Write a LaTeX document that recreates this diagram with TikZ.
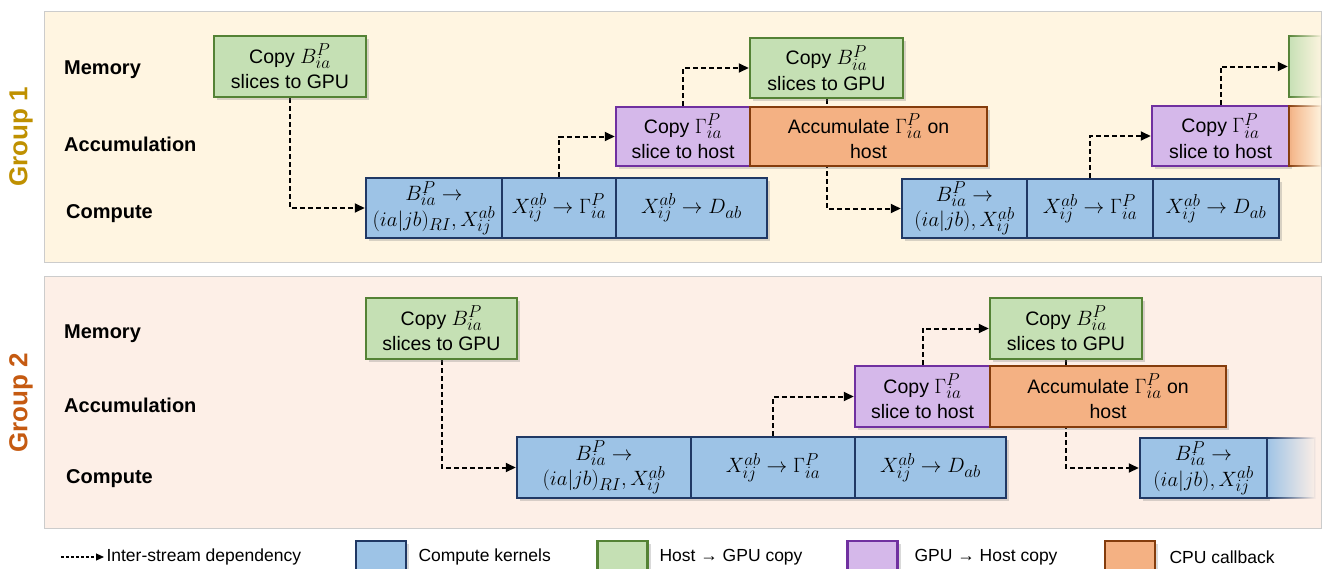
\documentclass[tikz,border=0pt]{standalone}
\usepackage{fontspec}
\setmainfont{Liberation Sans}
\usetikzlibrary{arrows.meta,shadows,fadings}
\DeclareMathSizes{19.5}{22}{16}{13}

\definecolor{kernelfill}{HTML}{9DC3E6}
\definecolor{kerneldraw}{HTML}{203864}
\definecolor{hostgpufill}{HTML}{C5E0B4}
\definecolor{hostgpudraw}{HTML}{548235}
\definecolor{gpuhostfill}{HTML}{D5B8EA}
\definecolor{gpuhostdraw}{HTML}{7030A0}
\definecolor{cpufill}{HTML}{F4B183}
\definecolor{cpudraw}{HTML}{843C0C}
\definecolor{panelone}{HTML}{FFF5E1}
\definecolor{paneltwo}{HTML}{FDEFE7}
\definecolor{groupgold}{HTML}{BF9000}
\definecolor{grouprust}{HTML}{C55A11}

\pgfdeclarelayer{bg}
\pgfdeclarelayer{links}
\pgfsetlayers{bg,links,main}

\begin{document}
\begin{tikzpicture}[x=1pt,y=-1pt]
  \tikzstyle{box}=[draw, line width=2.5pt, inner sep=0pt, align=center,
    font=\fontsize{19.5}{25.5}\selectfont,
    drop shadow={shadow xshift=3pt, shadow yshift=-3pt, opacity=0.3}]
  \tikzstyle{kernel}=[box, fill=kernelfill, draw=kerneldraw]
  \tikzstyle{hostgpu}=[box, fill=hostgpufill, draw=hostgpudraw]
  \tikzstyle{gpuhost}=[box, fill=gpuhostfill, draw=gpuhostdraw]
  \tikzstyle{cpu}=[box, fill=cpufill, draw=cpudraw]
  \tikzstyle{faded}=[draw, line width=2.5pt, inner sep=0pt, path fading=east]
  \tikzstyle{stream}=[anchor=west, inner sep=0pt, font=\fontsize{20}{24}\selectfont\bfseries]
  \tikzstyle{group}=[rotate=90, font=\fontsize{26}{30}\selectfont\bfseries]
  \tikzstyle{dep}=[line width=2pt, dash pattern=on 5pt off 3pt,
    -{Triangle[length=10pt,width=9pt]}]
  \tikzstyle{key}=[draw, line width=2.5pt, minimum width=50pt, minimum height=32pt,
    drop shadow={shadow xshift=3pt, shadow yshift=-3pt, opacity=0.3}]
  \tikzstyle{keytext}=[anchor=west, font=\fontsize{17.5}{20}\selectfont]

  \useasboundingbox (0,0) rectangle (1323,568);
  \clip (0,0) rectangle (1323,568);

  \begin{pgfonlayer}{bg}
    \fill[panelone, draw=black!20] (44,11) rectangle (1321,262);
    \fill[paneltwo, draw=black!20] (44,276) rectangle (1321,528);
  \end{pgfonlayer}

  % group 1
  \node[group, text=groupgold] (g1) at (21,137) {Group 1};
  \node[stream] (mem1) at (64,70)  {Memory};
  \node[stream] (acc1) at (64,144) {Accumulation};
  \node[stream] (cmp1) at (66,214) {Compute};

  \node[hostgpu, minimum width=152pt, minimum height=61pt] (m1) at (290,66.5)
    {Copy $B^P_{ia}$\\slices to GPU};
  \node[kernel, minimum width=136pt, minimum height=60pt] (k1) at (434,208)
    {$B^P_{ia}\rightarrow$\\$(ia|jb)_{RI},X^{ab}_{ij}$};
  \node[kernel, minimum width=114pt, minimum height=60pt] (k2) at (559,208)
    {$X^{ab}_{ij}\rightarrow\Gamma^P_{ia}$};
  \node[kernel, minimum width=151pt, minimum height=60pt] (k3) at (691.5,208)
    {$X^{ab}_{ij}\rightarrow D_{ab}$};
  \node[gpuhost, minimum width=134pt, minimum height=59pt] (a1) at (683,136.5)
    {Copy $\Gamma^P_{ia}$\\slice to host};
  \node[cpu, minimum width=237pt, minimum height=59pt] (c1) at (868.5,136.5)
    {Accumulate $\Gamma^P_{ia}$ on\\host};
  \node[hostgpu, minimum width=153pt, minimum height=60pt] (m2) at (826.5,68)
    {Copy $B^P_{ia}$\\slices to GPU};
  \node[kernel, minimum width=125pt, minimum height=59pt] (k4) at (964.5,208.5)
    {$B^P_{ia}\rightarrow$\\$(ia|jb),X^{ab}_{ij}$};
  \node[kernel, minimum width=126pt, minimum height=59pt] (k5) at (1090,208.5)
    {$X^{ab}_{ij}\rightarrow\Gamma^P_{ia}$};
  \node[kernel, minimum width=126pt, minimum height=59pt] (k6) at (1216,208.5)
    {$X^{ab}_{ij}\rightarrow D_{ab}$};
  \node[gpuhost, minimum width=137pt, minimum height=60pt] (a2) at (1220.5,136)
    {Copy $\Gamma^P_{ia}$\\slice to host};
  \node[faded, fill=cpufill, draw=cpudraw, minimum width=32pt, minimum height=60pt]
    (c2) at (1305,136) {};
  \node[faded, fill=hostgpufill, draw=hostgpudraw, minimum width=32pt, minimum height=61pt]
    (m3) at (1305,66.5) {};

  % group 2
  \node[group, text=grouprust] (g2) at (21,403) {Group 2};
  \node[stream] (mem2) at (64,334) {Memory};
  \node[stream] (acc2) at (64,405) {Accumulation};
  \node[stream] (cmp2) at (66,479) {Compute};

  \node[hostgpu, minimum width=151pt, minimum height=61pt] (m4) at (441.5,328.5)
    {Copy $B^P_{ia}$\\slices to GPU};
  \node[kernel, minimum width=174pt, minimum height=61pt] (k7) at (604,467.5)
    {$B^P_{ia}\rightarrow$\\$(ia|jb)_{RI},X^{ab}_{ij}$};
  \node[kernel, minimum width=164pt, minimum height=61pt] (k8) at (773,467.5)
    {$X^{ab}_{ij}\rightarrow\Gamma^P_{ia}$};
  \node[kernel, minimum width=151pt, minimum height=61pt] (k9) at (930.5,467.5)
    {$X^{ab}_{ij}\rightarrow D_{ab}$};
  \node[gpuhost, minimum width=135pt, minimum height=61pt] (a3) at (922.5,396.5)
    {Copy $\Gamma^P_{ia}$\\slice to host};
  \node[cpu, minimum width=236pt, minimum height=61pt] (c3) at (1108,396.5)
    {Accumulate $\Gamma^P_{ia}$ on\\host};
  \node[hostgpu, minimum width=152pt, minimum height=61pt] (m5) at (1066,328.5)
    {Copy $B^P_{ia}$\\slices to GPU};
  \node[kernel, minimum width=127pt, minimum height=60pt] (k10) at (1203.5,468)
    {$B^P_{ia}\rightarrow$\\$(ia|jb),X^{ab}_{ij}$};
  \node[faded, fill=kernelfill, draw=kerneldraw, minimum width=48pt, minimum height=60pt]
    (k11) at (1291,468) {};

  \begin{pgfonlayer}{links}
    \draw[dep] (m1) |- (k1);
    \draw[dep] (k2) |- (a1);
    \draw[dep] (a1) |- (m2);
    \draw[dep] (m2) |- (k4);
    \draw[dep] (k5) |- (a2);
    \draw[dep] (a2) |- (m3);

    \draw[dep] (m4) |- (k7);
    \draw[dep] (k8) |- (a3);
    \draw[dep] (a3) |- (m5);
    \draw[dep] (m5) |- (k10);
  \end{pgfonlayer}

  % legend
  \coordinate (l0) at (61,557);
  \coordinate (l1) at (104,557);
  \draw[line width=1.1pt, dash pattern=on 3pt off 2pt, -{Triangle[length=8pt,width=7pt]}] (l0) -- (l1);
  \node[keytext] (t0) at (103,557) {Inter-stream dependency};
  \node[key, fill=kernelfill, draw=kerneldraw] (s1) at (381,557) {};
  \node[keytext] (t1) at (415,557) {Compute kernels};
  \node[key, fill=hostgpufill, draw=hostgpudraw] (s2) at (622.5,557) {};
  \node[keytext] (t2) at (656,557) {Host → GPU copy};
  \node[key, fill=gpuhostfill, draw=gpuhostdraw] (s3) at (872.5,557) {};
  \node[keytext] (t3) at (911,557) {GPU → Host copy};
  \node[key, fill=cpufill, draw=cpudraw] (s4) at (1130,557) {};
  \node[keytext] (t4) at (1166,557) {CPU callback};
\end{tikzpicture}
\end{document}
